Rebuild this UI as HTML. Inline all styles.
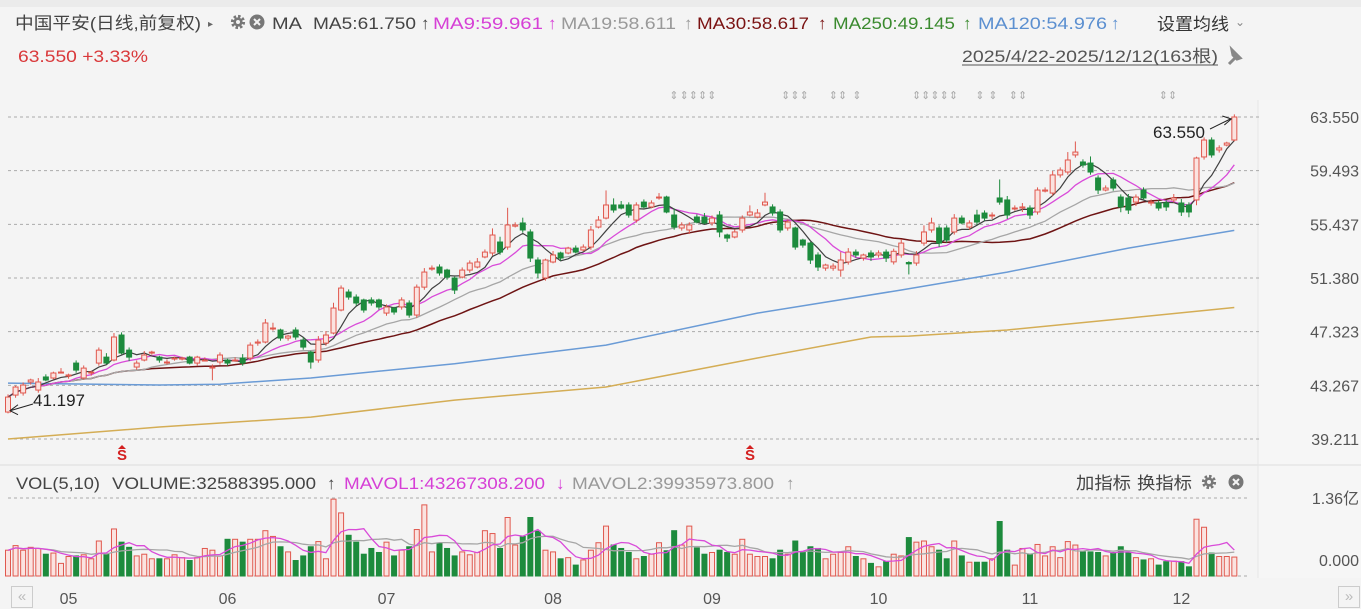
<!DOCTYPE html>
<html><head><meta charset="utf-8">
<style>
body{margin:0;background:#f4f4f4;width:1361px;height:609px;overflow:hidden;font-family:"Liberation Sans","Noto Sans CJK SC",sans-serif;}
#wrap{position:relative;width:1361px;height:609px;}
.t{position:absolute;white-space:nowrap;font-size:16px;}
</style></head>
<body><div id="wrap">
<div style="position:absolute;left:0;top:0;width:1361px;height:7px;background:#ebebeb"></div>
<div style="position:absolute;left:1258px;top:100px;width:103px;height:478px;background:#f6f6f6"></div>
<svg id="svg" width="1361" height="609" style="position:absolute;left:0;top:0"></svg>
<div style="position:absolute;left:11px;top:586px;width:20px;height:20px;border:1px solid #ccc;color:#bbb;font-size:15px;line-height:19px;text-align:center">«</div>
<div style="position:absolute;left:1338px;top:586px;width:20px;height:20px;border:1px solid #ccc;color:#bbb;font-size:15px;line-height:19px;text-align:center">»</div>
</div>
<script>
const opens=[41.25,42.53,42.69,43.52,42.91,43.90,43.82,44.27,43.97,44.95,43.82,44.20,44.95,45.40,45.18,47.07,45.93,44.65,45.18,45.78,45.40,45.03,45.33,45.25,45.40,44.95,45.18,44.65,45.03,45.18,45.18,45.33,45.33,46.46,46.54,47.60,47.45,46.84,47.45,46.69,45.78,45.18,46.46,47.22,48.96,50.32,49.94,49.72,49.72,49.72,48.73,49.11,49.19,49.49,48.58,50.69,52.13,52.21,51.98,51.38,51.45,51.98,52.21,52.97,53.27,54.10,53.72,55.30,55.54,54.86,52.74,51.38,52.59,53.27,53.27,53.64,53.50,53.72,55.23,55.91,56.90,56.90,56.90,55.76,57.12,56.75,57.50,57.50,56.14,55.16,55.01,55.99,55.99,55.54,56.14,54.63,54.48,55.01,56.14,55.99,56.90,56.75,56.37,55.16,55.16,54.25,54.02,53.12,52.13,52.13,51.98,52.59,53.34,52.89,53.27,53.12,53.34,52.60,53.12,52.55,52.51,54.02,55.01,55.16,55.16,54.86,55.91,55.23,56.14,56.29,56.14,57.43,57.28,56.67,56.67,56.67,56.37,57.95,57.80,59.17,59.39,60.68,60.15,60.07,58.94,58.03,58.79,57.50,57.43,57.12,58.03,57.05,57.05,57.05,57.28,57.05,56.90,57.28,60.53,61.81,61.06,61.43,61.81];
const closes=[42.38,43.14,43.29,43.67,43.52,43.67,44.20,44.27,44.05,44.42,44.57,44.27,45.93,44.95,46.92,45.71,45.40,44.95,45.56,45.78,45.18,45.03,45.33,45.33,44.95,45.40,45.18,44.65,45.56,44.95,45.18,44.95,46.31,46.54,47.98,47.60,46.84,46.99,46.92,46.16,45.03,46.69,47.07,49.11,50.62,49.94,49.49,48.96,49.49,49.19,49.19,48.81,49.72,48.58,50.69,51.83,52.13,51.76,51.45,50.47,51.98,52.51,52.59,53.34,54.63,53.34,55.39,55.39,55.01,52.89,51.76,52.74,53.12,52.89,53.64,53.34,53.72,55.01,55.76,56.90,56.52,56.67,56.14,56.90,56.75,57.05,57.50,56.37,55.23,55.39,55.39,55.61,55.54,55.91,54.86,54.40,54.86,55.91,56.37,56.29,57.12,56.29,55.01,55.61,53.72,53.87,52.74,52.21,52.36,52.28,52.74,53.34,53.12,53.12,52.97,53.27,52.89,53.40,54.02,52.45,53.12,54.86,55.54,54.02,54.25,55.91,55.54,55.54,55.61,55.91,56.14,57.12,56.14,56.67,56.75,56.14,58.03,58.03,59.17,59.54,60.30,60.90,59.92,59.39,58.03,58.18,58.18,56.75,56.52,57.50,57.43,57.12,56.67,56.75,57.43,56.37,56.37,60.45,61.81,60.68,61.21,61.58,63.55];
const wickUp=[0.2,0.1,0.2,0.1,0.3,0.2,0.1,0.3,0.1,0.2,0.2,0.1,0.2,0.3,0.3,0.2,0.2,0.2,0.3,0.1,0.1,0.2,0.1,0.1,0.1,0.1,0.2,0.2,0.2,0.1,0.2,0.3,0.2,0.2,0.3,0.4,0.1,0.1,0.2,0.2,0.1,0.3,0.3,0.4,0.2,0.2,0.2,0.1,0.2,0.1,0.2,0.1,0.2,0.2,0.2,0.3,0.2,0.2,0.1,0.1,0.2,0.2,0.3,0.2,0.5,0.4,1.3,0.2,0.4,0.2,0.2,0.1,0.3,0.1,0.1,0.2,0.2,0.3,0.3,1.1,0.5,0.3,0.2,0.2,0.2,0.2,0.3,0.1,0.5,0.2,0.2,0.2,0.3,0.2,0.3,0.1,0.2,0.2,0.5,0.3,0.7,0.2,0.2,0.2,0.1,0.1,0.1,0.2,0.1,0.2,0.6,0.3,0.2,0.1,0.2,0.2,0.2,0.2,0.3,0.1,0.3,0.5,0.4,0.2,0.2,0.3,0.2,0.2,0.4,0.2,0.2,1.4,0.3,0.2,0.3,0.2,0.2,0.2,0.3,0.2,0.6,0.8,0.2,0.5,0.2,0.2,0.2,0.2,0.3,0.2,0.2,0.2,0.2,0.2,0.3,0.3,0.2,0.1,0.2,0.2,0.2,0.1,0.2];
const wickDn=[0.1,0.2,0.2,0.2,0.2,0.1,0.1,0.1,0.2,0.2,0.1,0.2,0.2,0.1,0.1,0.1,0.3,0.2,0.1,0.2,0.2,0.2,0.2,0.1,0.1,0.2,0.1,1.0,0.2,0.2,0.1,0.2,0.2,0.2,0.1,0.2,0.2,0.2,0.2,0.2,0.5,0.2,0.2,0.1,0.1,0.2,0.2,0.2,0.2,0.2,0.2,0.2,0.2,0.2,0.2,0.2,0.2,0.2,0.2,0.3,0.1,0.2,0.1,0.1,0.2,0.2,0.2,0.1,0.2,0.3,0.4,0.2,0.1,0.2,0.1,0.1,0.1,0.2,0.1,0.1,0.2,0.1,0.2,0.2,0.1,0.1,0.2,0.1,0.2,0.2,0.3,0.1,0.1,0.2,0.4,0.3,0.1,0.2,0.1,0.1,0.1,0.2,0.2,0.2,0.2,0.2,0.3,0.3,0.2,0.2,0.5,0.2,0.2,0.2,0.3,0.2,0.3,0.2,0.2,0.8,0.2,0.2,0.2,0.3,0.2,0.2,0.1,0.2,0.2,0.2,0.3,0.2,0.3,0.2,0.3,0.3,0.2,0.1,0.2,0.2,0.2,0.2,0.2,0.2,0.3,0.1,0.2,0.4,0.3,0.3,0.1,0.2,0.2,0.3,0.2,0.3,0.4,0.4,0.2,0.2,0.2,0.1,0.1];
const volumes=[45,53,45,50,48,38,40,22,34,35,37,30,61,38,82,59,50,35,38,30,30,30,37,32,27,32,48,45,35,64,64,59,64,64,79,69,51,42,27,35,51,60,30,134,110,71,59,38,48,41,59,35,45,51,81,124,42,57,48,35,42,37,41,79,74,48,102,54,69,102,78,45,42,30,32,19,28,45,58,87,54,48,41,30,34,38,58,44,79,54,87,49,38,41,45,41,38,64,38,34,34,30,45,38,61,41,51,48,30,38,41,51,34,30,22,16,25,38,35,67,59,61,51,45,30,61,35,24,24,24,30,95,45,19,48,38,55,35,51,32,60,54,42,42,41,35,41,51,41,32,28,30,19,25,26,25,16,99,85,40,34,34,33];
const ma120Idx=[0,20,28,40,59,79,99,118,132,148,162];
const ma120Val=[43.44,43.29,43.35,43.82,44.9,46.31,48.73,50.47,51.83,53.64,54.98];
const ma250Idx=[0,20,40,59,79,99,114,119,132,148,162];
const ma250Val=[39.21,40.12,40.87,42.15,43.14,45.33,46.92,46.99,47.45,48.35,49.15];
const priceTicks=[63.550,59.493,55.437,51.380,47.323,43.267,39.211];
const monthLabels=["05","06","07","08","09","10","11","12"];
const monthIdx=[8,29,50,72,93,115,135,155];

const NS="http://www.w3.org/2000/svg";const svg=document.getElementById('svg');
function el(t,a,p){const e=document.createElementNS(NS,t);for(const k in a)e.setAttribute(k,a[k]);(p||svg).appendChild(e);return e;}
function txt(s,x0,y0,w,col,size){const t=el('text',{x:x0,y:y0,'font-size':size||17,fill:col,'font-family':'Liberation Sans, Noto Sans CJK SC, sans-serif'});
 if(w){t.setAttribute('textLength',w);t.setAttribute('lengthAdjust','spacingAndGlyphs');}t.textContent=s;return t;}
const x=i=>8+i*7.57;
const y=p=>117+(63.55-p)*(322/(63.55-39.211));
const vy=v=>576-v*(78/136);
const RED="#e0584e",GRN="#1d8b3d";
// header texts
let h;
h=txt('中国平安(日线,前复权)',15,29,186,'#444');
h=txt('▸',208,27,0,'#666',10);
function gear(cx,cy,name){const g=el('g',{});
 el('circle',{cx:cx,cy:cy,r:5.5,fill:'none',stroke:'#777','stroke-width':3.2,'stroke-dasharray':'2.4,1.9'},g);el('circle',{cx:cx,cy:cy,r:4.6,fill:'#777'},g);el('circle',{cx:cx,cy:cy,r:2,fill:'#f4f4f4'},g);}
function closeI(cx,cy,name){const g=el('g',{});
 el('circle',{cx:cx,cy:cy,r:7.5,fill:'#777'},g);el('path',{d:`M${cx-3},${cy-3}L${cx+3},${cy+3}M${cx+3},${cy-3}L${cx-3},${cy+3}`,stroke:'#f4f4f4','stroke-width':2},g);}
gear(238,22,'ma-settings-icon');closeI(257,22,'ma-close-icon');
const legend=[['MA',272,30,'#444'],['MA5:61.750',313,103,'#444'],['↑',421,0,'#444'],['MA9:59.961',433,110,'#d63fd6'],['↑',548,0,'#d63fd6'],['MA19:58.611',561,115,'#999'],['↑',684,0,'#999'],['MA30:58.617',697,112,'#7a1212'],['↑',818,0,'#7a1212'],['MA250:49.145',833,122,'#3a8a2e'],['↑',963,0,'#3a8a2e'],['MA120:54.976',978,129,'#5b8fd0'],['↑',1111,0,'#5b8fd0']];
legend.forEach(([s,lx,w,c])=>{const t=txt(s,lx,29,w,c);});
h=txt('设置均线',1157,30,72,'#333');
h=txt('⌄',1235,26,0,'#888',12);
h=txt('63.550 +3.33%',18,62,130,'#d9383a');
h=txt('2025/4/22-2025/12/12(163根)',962,62,256,'#555');
el('line',{x1:962,y1:65,x2:1218,y2:65,stroke:'#555'});
const pin=el('path',{d:'M1229,64 L1235,58 M1232,50 L1240,58 L1237,59 L1233,55 Z M1234,52 L1238,56',stroke:'#888','stroke-width':3,fill:'#888'});

const vleg=[['VOL(5,10)',16,84,'#444'],['VOLUME:32588395.000',112,204,'#444'],['↑',327,0,'#444'],['MAVOL1:43267308.200',344,201,'#d63fd6'],['↓',556,0,'#d63fd6'],['MAVOL2:39935973.800',572,202,'#999'],['↑',786,0,'#999']];
vleg.forEach(([s,lx,w,c])=>{const t=txt(s,lx,489,w,c);});
h=txt('加指标',1076,489,55,'#444');
h=txt('换指标',1137,489,55,'#444');
gear(1209,482,'vol-settings-icon');closeI(1236,482,'vol-close-icon');
// panels
el('line',{x1:0,y1:465,x2:1361,y2:465,stroke:'#ddd'});
el('line',{x1:1258,y1:100,x2:1258,y2:578,stroke:'#e6e6e6'});
priceTicks.forEach(t=>{
 const g=el('line',{x1:8,y1:y(t),x2:1260,y2:y(t),stroke:'#aaa','stroke-dasharray':'3,3'});
 
 const tx=el('text',{x:1359,y:y(t)+6,'text-anchor':'end','font-size':16,fill:'#555','font-family':'Liberation Sans'});tx.textContent=t.toFixed(3);
 
});
[498,576].forEach(v=>el('line',{x1:8,y1:v,x2:1250,y2:v,stroke:'#aaa','stroke-dasharray':'3,3'}));
const vt1=el('text',{x:1359,y:504,'text-anchor':'end','font-size':16,fill:'#555','font-family':'Liberation Sans, Noto Sans CJK SC'});vt1.textContent='1.36亿';

const vt0=el('text',{x:1359,y:566,'text-anchor':'end','font-size':16,fill:'#555','font-family':'Liberation Sans'});vt0.textContent='0.000';

monthLabels.forEach((m,k)=>{const t=el('text',{x:x(monthIdx[k]),y:604,'text-anchor':'middle','font-size':16,fill:'#555','font-family':'Liberation Sans'});t.textContent=m;
 });
// MA lines
function ma(arr,n){return arr.map((_,i)=>{const s=Math.max(0,i-n+1);let t=0;for(let j=s;j<=i;j++)t+=arr[j];return t/(i-s+1);});}
function line(vals,col,w,f,name){const pts=vals.map((v,i)=>x(i).toFixed(1)+','+f(v).toFixed(1)).join(' ');
 const l=el('polyline',{points:pts,fill:'none',stroke:col,'stroke-width':w});}
function sparse(idx,vals,col,name){const pts=idx.map((i,k)=>x(i).toFixed(1)+','+y(vals[k]).toFixed(1)).join(' ');
 const l=el('polyline',{points:pts,fill:'none',stroke:col,'stroke-width':1.5});}
sparse(ma250Idx,ma250Val,'#d4ad55','ma250-line');
sparse(ma120Idx,ma120Val,'#6a9bd6','ma120-line');
line(ma(closes,30),'#6e1414',1.5,y,'ma30-line');
line(ma(closes,19),'#a6a6a6',1.3,y,'ma19-line');
line(ma(closes,9),'#d94bd9',1.3,y,'ma9-line');
line(ma(closes,5),'#404040',1.2,y,'ma5-line');
// candles
closes.forEach((c,i)=>{const o=opens[i];const up=c>=o;const col=up?RED:GRN;
 const hi=Math.max(o,c)+wickUp[i],lo=Math.min(o,c)-wickDn[i];
 const w=el('line',{x1:x(i),x2:x(i),y1:y(hi),y2:y(lo),stroke:col,'stroke-width':1});
 
 const top=y(Math.max(o,c)),hh=Math.max(1,y(Math.min(o,c))-top);
 const r=el('rect',{x:x(i)-2.5,y:top,width:5,height:hh,fill:up?'#fbe3e0':GRN,stroke:col,'stroke-width':1});
 
 const v=volumes[i];const b=el('rect',{x:x(i)-2.5,y:vy(v),width:5,height:576-vy(v),fill:up?'#fbe3e0':GRN,stroke:col,'stroke-width':1});
 
});
line(ma(volumes,10),'#a6a6a6',1.3,vy,'mavol2-line');
line(ma(volumes,5),'#d94bd9',1.3,vy,'mavol1-line');
// annotations
const lastI=closes.length-1;
const a1=el('text',{x:1153,y:138,'font-size':17,fill:'#222','font-family':'Liberation Sans'});a1.textContent=Math.max(...closes).toFixed(3);

el('line',{x1:1210,y1:129,x2:x(lastI)-4,y2:y(63.55)+2,stroke:'#222'});
el('polyline',{points:`${x(lastI)-12},${y(63.55)-1} ${x(lastI)-3},${y(63.55)+2} ${x(lastI)-10},${y(63.55)+8}`,fill:'none',stroke:'#222'});
const a2=el('text',{x:33,y:406,'font-size':17,fill:'#222','font-family':'Liberation Sans'});a2.textContent='41.197';

el('line',{x1:33,y1:404,x2:10,y2:y(41.197)-2,stroke:'#222'});
el('polyline',{points:`18,${y(41.197)-8} 10,${y(41.197)-2} 18,${y(41.197)+2}`,fill:'none',stroke:'#222'});
[122,750].forEach(px=>{const s=el('text',{x:px,y:460,'text-anchor':'middle','font-size':15,'font-weight':'bold',fill:'#d42020','font-family':'Liberation Sans'});s.textContent='S';
 
 el('polygon',{points:`${px-4},449 ${px},445 ${px+4},449`,fill:'#d42020'});});
[[674,'⇕'],[698,'⇕⇕⇕⇕'],[795,'⇕⇕⇕'],[838,'⇕⇕'],[857,'⇕'],[935,'⇕⇕⇕⇕⇕'],[980,'⇕'],[993,'⇕'],[1018,'⇕⇕'],[1168,'⇕⇕']].forEach(([px,s])=>{
 const t=el('text',{x:px,y:99,'text-anchor':'middle','font-size':11,fill:'#aaa','font-family':'DejaVu Sans'});t.textContent=s;
 });
</script>
</body></html>
